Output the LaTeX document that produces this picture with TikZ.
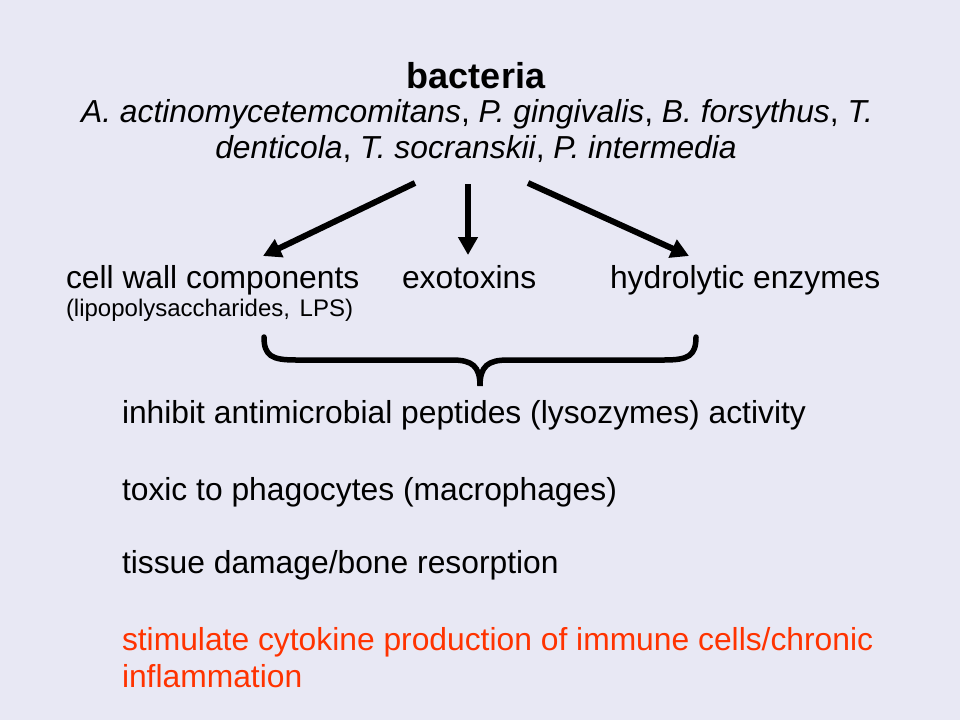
\documentclass[tikz,border=0pt]{standalone}
\usepackage{fontspec}
\setmainfont{Liberation Sans}
\usetikzlibrary{arrows.meta}
\definecolor{bgcol}{RGB}{232,232,244}
\definecolor{redtxt}{RGB}{255,51,0}
\tikzset{
  txt/.style={inner sep=0pt, outer sep=0pt, font=\fontsize{31.8}{36}\selectfont},
  smalltxt/.style={inner sep=0pt, outer sep=0pt, font=\fontsize{24}{28}\selectfont},
  titletxt/.style={inner sep=0pt, outer sep=0pt, font=\fontsize{36}{40}\selectfont\bfseries},
  bigarrow/.style={line width=6pt, -{Triangle[width=19pt,length=18pt]}},
  bracepath/.style={line width=5.5pt, line cap=round, line join=miter}
}
\begin{document}
\begin{tikzpicture}[x=1pt,y=-1pt]
\fill[bgcol] (0,0) rectangle (960,720);
\useasboundingbox (0,0) rectangle (960,720);

\node[titletxt, anchor=base] (title) at (476,88) {bacteria};
\node[txt, anchor=base] (sp1) at (477,122) {\textit{A. actinomycetemcomitans}, \textit{P. gingivalis}, \textit{B. forsythus}, \textit{T.}};
\node[txt, anchor=base] (sp2) at (476,158) {\textit{denticola}, \textit{T. socranskii}, \textit{P. intermedia}};

\node[txt, anchor=base west] (cw) at (66,288) {cell wall components};
\node[smalltxt, anchor=base west] (lps) at (66,316) {(lipopolysaccharides,\hspace{3pt} LPS)};
\node[txt, anchor=base west] (exo) at (402,288) {exotoxins};
\node[txt, anchor=base west] (hyd) at (610,288) {hydrolytic enzymes};

\coordinate (s1) at (415,183);
\coordinate (e1) at (263,256);
\coordinate (s2) at (468,184);
\coordinate (e2) at (468,255);
\coordinate (s3) at (528,183);
\coordinate (e3) at (689,256);
\draw[bigarrow] (s1) -- (e1);
\draw[bigarrow] (s2) -- (e2);
\draw[bigarrow] (s3) -- (e3);

\coordinate (bl) at (264,337);
\coordinate (bc) at (480,386);
\coordinate (br) at (696,337);
\draw[bracepath] (bl) .. controls (264,356) and (272,360) .. (296,360)
  -- (452,360) .. controls (472,360) and (480,366) .. (bc)
  .. controls (480,366) and (488,360) .. (508,360)
  -- (664,360) .. controls (688,360) and (696,356) .. (br);

\node[txt, anchor=base west] (l1) at (122,423) {inhibit antimicrobial peptides (lysozymes) activity};
\node[txt, anchor=base west] (l2) at (122,500) {toxic to phagocytes (macrophages)};
\node[txt, anchor=base west] (l3) at (122,573) {tissue damage/bone resorption};
\node[txt, anchor=base west, text=redtxt] (l4) at (122,650) {stimulate cytokine production of immune cells/chronic};
\node[txt, anchor=base west, text=redtxt] (l5) at (122,687) {inflammation};
\end{tikzpicture}
\end{document}
